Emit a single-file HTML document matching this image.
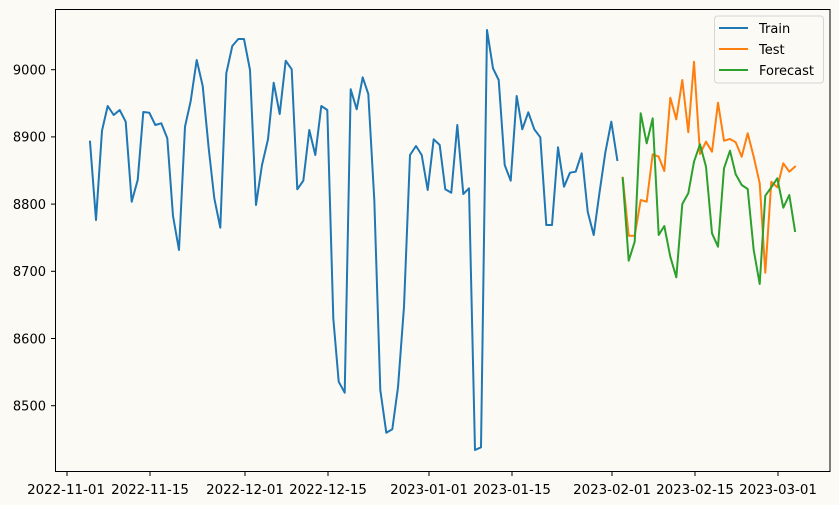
<!DOCTYPE html>
<html><head><meta charset="utf-8"><style>
html,body{margin:0;padding:0;background:#fbfaf5;}
svg{display:block;font-family:"DejaVu Sans","Liberation Sans",sans-serif;}
</style></head><body>
<svg width="839" height="505" viewBox="0 0 839 505" xmlns="http://www.w3.org/2000/svg">
<rect width="839" height="505" fill="#fbfaf5"/>
<g fill="none" stroke-width="2" stroke-linejoin="round" stroke-linecap="square">
<polyline stroke="#1f77b4" points="90,141.7 96,220 102,130.7 107.7,106 113.7,115 119.7,110 125.7,121.7 131.7,201.7 137.7,180 143.3,112 149.3,112.7 155.3,125 161.3,123.3 167.3,138.3 173,216 179,250 185,126.7 190.7,101 196.7,60 202.7,86 208.7,148.3 214.3,198.3 220.3,227.7 226.3,73.3 232.3,46 238.3,39 244,39 250,70 256,205 262,165 268,139.3 273.7,82.7 279.7,114 285.7,60.7 291.7,69.3 297.3,189.3 303.3,180.7 309.3,130 315.3,155 321.3,106 327.3,110 333.3,318.3 338.7,381.7 344.7,392.7 350.7,89.3 356.7,109.3 362.7,77.3 368.3,94 374.3,200 380.3,390 386.3,432.7 392.3,429.3 398,387.3 404,306.7 410,155 416,146 421.7,155 427.7,190 433.7,139.3 439.7,145 445.3,189.3 451.3,192.7 457.3,125 463.3,194 469,188.3 475,450 481,447.3 487,30 493,68.3 498.7,80 504.7,165 510.7,180.7 516.7,96 522.3,129.3 528.3,112.3 534.3,129.3 540.3,137.3 546.3,225 552,225 558,147.3 564,186.7 570,172.7 575.7,171.7 581.7,153.3 587.7,211.7 593.7,235 599.3,194 605.3,152.7 611.3,121.7 617.3,160"/>
<polyline stroke="#ff7f0e" points="622.7,177.7 628.7,235.7 634.7,235.7 640.7,200 646.7,201.7 652.7,154.3 658.7,156.7 664.3,171 670.3,97.7 676.3,119.3 682.3,80 688.3,132.3 694,61.7 700,154 706,141.7 712,151.7 718,102.7 724,140.7 730,139 735.7,142.3 741.7,156.7 747.7,133.3 753.7,156.7 759.7,183.3 765.3,272.7 771.3,181.7 777.3,187.3 783.3,163.3 789.3,171.7 795,166.7"/>
<polyline stroke="#2ca02c" points="622.7,178.3 628.7,260.7 634.7,241.7 640.7,113.3 646.7,143.3 652.7,118.3 658.7,235 664.3,226 670.3,256.7 676.3,277.3 682.3,204 688.3,193.3 694,161.7 700,144.3 706,166.7 712,233.3 718,246.7 724,168.3 730,150.7 735.7,174.3 741.7,185 747.7,189 753.7,250 759.7,284 765.3,195.7 771.3,187.3 777.3,178.3 783.3,207.7 789.3,195 795,231"/>
</g>
<rect x="55.5" y="9.5" width="774.5" height="462" fill="none" stroke="#000" stroke-width="1"/>
<g stroke="#000" stroke-width="1">
<line x1="51" y1="69.7" x2="55.5" y2="69.7"/><line x1="51" y1="136.9" x2="55.5" y2="136.9"/><line x1="51" y1="204.1" x2="55.5" y2="204.1"/><line x1="51" y1="271.3" x2="55.5" y2="271.3"/><line x1="51" y1="338.5" x2="55.5" y2="338.5"/><line x1="51" y1="405.7" x2="55.5" y2="405.7"/>
<line x1="67" y1="471.5" x2="67" y2="476"/><line x1="150" y1="471.5" x2="150" y2="476"/><line x1="245" y1="471.5" x2="245" y2="476"/><line x1="328" y1="471.5" x2="328" y2="476"/><line x1="429" y1="471.5" x2="429" y2="476"/><line x1="512" y1="471.5" x2="512" y2="476"/><line x1="612" y1="471.5" x2="612" y2="476"/><line x1="695" y1="471.5" x2="695" y2="476"/><line x1="778" y1="471.5" x2="778" y2="476"/>
</g>
<g font-size="13" fill="#000" text-anchor="end">
<text x="46" y="74.5">9000</text><text x="46" y="141.7">8900</text><text x="46" y="208.9">8800</text><text x="46" y="276.1">8700</text><text x="46" y="343.3">8600</text><text x="46" y="410.5">8500</text>
</g>
<g font-size="13.4" fill="#000" text-anchor="middle">
<text x="66" y="494">2022-11-01</text><text x="150" y="494">2022-11-15</text><text x="245" y="494">2022-12-01</text><text x="328" y="494">2022-12-15</text><text x="429" y="494">2023-01-01</text><text x="512" y="494">2023-01-15</text><text x="612" y="494">2023-02-01</text><text x="695" y="494">2023-02-15</text><text x="778" y="494">2023-03-01</text>
</g>
<rect x="714.5" y="16" width="109" height="67" rx="3" fill="#fbfaf5" fill-opacity="0.8" stroke="#d6d6d6"/>
<g stroke-width="2">
<line x1="719" y1="28" x2="748" y2="28" stroke="#1f77b4"/>
<line x1="719" y1="49" x2="748" y2="49" stroke="#ff7f0e"/>
<line x1="719" y1="70" x2="748" y2="70" stroke="#2ca02c"/>
</g>
<g font-size="13" fill="#000">
<text x="759" y="33">Train</text><text x="759" y="54">Test</text><text x="759" y="75">Forecast</text>
</g>
</svg>
</body></html>
